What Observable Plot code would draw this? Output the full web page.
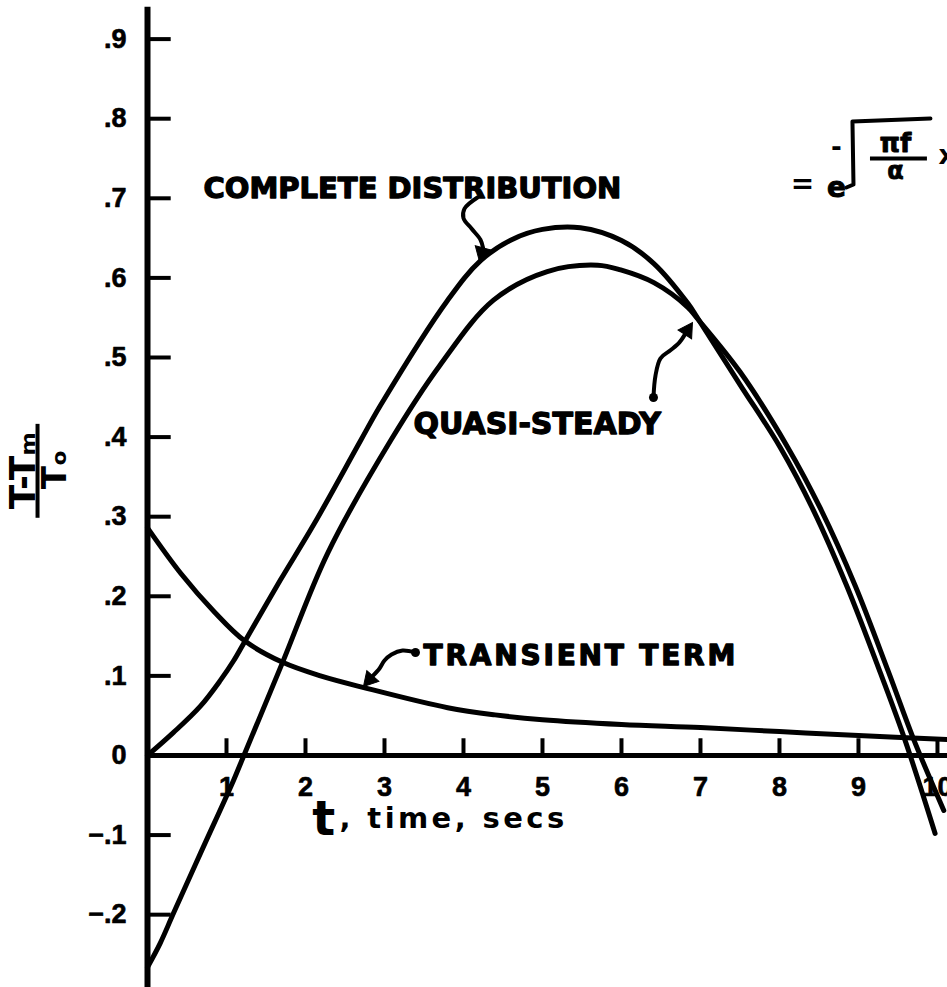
<!DOCTYPE html>
<html>
<head>
<meta charset="utf-8">
<script src="https://cdn.jsdelivr.net/npm/d3@7"></script>
<script src="https://cdn.jsdelivr.net/npm/@observablehq/plot@0.6"></script>
<style>
  body { margin: 0; background: #fff; }
  #chart svg { display: block; }
</style>
</head>
<body>
<div id="chart"></div>
<script>
// Dimensionless temperature (T - Tm)/To against time t (secs)

// Complete distribution = quasi-steady + transient
const completeT = [0, 0.33, 0.67, 0.92, 1.09, 1.23, 1.68, 2.11, 2.70, 2.95, 3.8, 4.22, 4.63, 5.0, 5.48, 6.0, 6.41, 6.84, 6.96, 7.5, 8.01, 8.43, 8.86, 9.28, 9.59, 9.97];
const completeV = [0, 0.029, 0.062, 0.094, 0.119, 0.143, 0.22, 0.291, 0.396, 0.44, 0.572, 0.622, 0.649, 0.661, 0.663, 0.647, 0.618, 0.568, 0.550, 0.466, 0.387, 0.308, 0.211, 0.103, 0.019, -0.098];

// Quasi-steady (periodic) solution
const quasiT = [0, 0.16, 0.33, 0.67, 1.09, 1.22, 1.71, 2.28, 3.08, 3.7, 4.38, 5.06, 5.70, 5.99, 6.41, 6.84, 6.96, 7.5, 8.10, 8.52, 8.96, 9.38, 9.70, 10.08];
const quasiV = [-0.266, -0.236, -0.198, -0.123, -0.031, 0, 0.117, 0.254, 0.396, 0.49, 0.572, 0.608, 0.616, 0.61, 0.594, 0.563, 0.549, 0.482, 0.388, 0.31, 0.213, 0.105, 0.02, -0.069];

// Decaying transient term
const transientT = [0, 0.42, 0.85, 1.23, 1.71, 2.19, 2.75, 3.8, 4.4, 5, 6, 7, 8, 9, 10.13];
const transientV = [0.286, 0.229, 0.180, 0.144, 0.117, 0.100, 0.085, 0.060, 0.051, 0.045, 0.039, 0.035, 0.030, 0.025, 0.020];

// Axis ticks
const xTicks = [1, 2, 3, 4, 5, 6, 7, 8, 9, 10];
const xTickLabels = ["1", "2", "3", "4", "5", "6", "7", "8", "9", "10"];
const yTicks = [-0.2, -0.1, 0, 0.1, 0.2, 0.3, 0.4, 0.5, 0.6, 0.7, 0.8, 0.9];
const yTickLabels = ["\u2212.2", "\u2212.1", "0", ".1", ".2", ".3", ".4", ".5", ".6", ".7", ".8", ".9"];

// Curve labels and their leader arrows (in t, value units)
const labelNames = ["COMPLETE DISTRIBUTION", "QUASI-STEADY", "TRANSIENT TERM"];
const labelT = [0.709, 3.367, 3.494];
const labelV = [0.7117, 0.4165, 0.1244];

const completeArrowT = [4.177, 4.013, 4.0, 4.101, 4.215, 4.248];
const completeArrowV = [0.701, 0.687, 0.675, 0.662, 0.648, 0.6376];
const quasiArrowT = [6.405, 6.430, 6.494, 6.620, 6.734, 6.804];
const quasiArrowV = [0.4497, 0.477, 0.499, 0.509, 0.519, 0.529];
const transientArrowT = [3.392, 3.228, 3.089, 3.0, 2.937, 2.852];
const transientArrowV = [0.1294, 0.1319, 0.1269, 0.1193, 0.1093, 0.0999];
const headT = [4.233, 6.834, 2.813];
const headV = [0.632, 0.534, 0.0955];
const headAngle = [195, 33, 222];
const tailT = [6.405, 3.392];
const tailV = [0.4497, 0.1294];

// Quasi-steady amplitude expression, top right
const radicalT = [8.848, 8.937, 8.924, 9.911];
const radicalV = [0.7136, 0.7173, 0.7965, 0.8003];

const xMax = 10.127, yMin = -0.2915, yMax = 0.9485;

const pts = (ts, vs) => ts.map((t, i) => ({t, v: vs[i]}));
const complete = pts(completeT, completeV);
const quasi = pts(quasiT, quasiV);
const transient = pts(transientT, transientV);

const hand = "DejaVu Sans";
const digits = "Liberation Sans";
const ink = {fill: "black", stroke: "black"};
const curveStyle = {x: "t", y: "v", curve: "catmull-rom", stroke: "black", strokeWidth: 5, strokeLinecap: "round", strokeLinejoin: "round"};
const leaderStyle = {x: "t", y: "v", curve: "catmull-rom", stroke: "black", strokeWidth: 4, strokeLinecap: "round"};
const labelStyle = (i, size) => ({
  x: () => labelT[i], y: () => labelV[i], text: () => labelNames[i],
  textAnchor: "start", fontFamily: hand, fontWeight: "bold", fontSize: size,
  ...ink, strokeWidth: 1.3
});

const chart = Plot.plot({
  width: 947,
  height: 987,
  marginLeft: 147,
  marginRight: 0,
  marginTop: 0,
  marginBottom: 0,
  x: {domain: [0, xMax], axis: null},
  y: {domain: [yMin, yMax], axis: null},
  style: {background: "white", color: "black"},
  marks: [
    // axes
    Plot.ruleX([0], {y1: yMin, y2: 0.94, strokeWidth: 6}),
    Plot.ruleY([0], {x1: 0, x2: xMax, strokeWidth: 5}),
    Plot.ruleX(xTicks, {x: d => d, y1: 0, y2: 0.021, strokeWidth: 4}),
    Plot.ruleY(yTicks.filter(d => d !== 0), {y: d => d, x1: 0, x2: 0.3, strokeWidth: 4}),
    Plot.text(xTicks, {x: d => d, y: 0, dy: 32, text: (d, i) => xTickLabels[i], fontFamily: digits, fontWeight: "bold", fontSize: 27, ...ink, strokeWidth: 0.6}),
    Plot.text(yTicks, {x: 0, y: d => d, dx: -21, text: (d, i) => yTickLabels[i], textAnchor: "end", fontFamily: digits, fontWeight: "bold", fontSize: 27, ...ink, strokeWidth: 0.6}),

    // axis titles
    Plot.text(["t"], {x: () => 2.23, y: () => -0.08, text: d => d, fontFamily: hand, fontWeight: "bold", fontSize: 48}),
    Plot.text([", time, secs"], {x: () => 2.43, y: () => -0.0797, text: d => d, textAnchor: "start", fontFamily: hand, fontWeight: "bold", fontSize: 29}),
    Plot.text(["T-T\u2098"], {x: () => -1.57, y: () => 0.358, text: d => d, rotate: -90, fontFamily: hand, fontWeight: "bold", fontSize: 36}),
    Plot.ruleX([-1.392], {x: d => d, y1: 0.298, y2: 0.416, strokeWidth: 4}),
    Plot.text(["T\u2092"], {x: () => -1.165, y: () => 0.3593, text: d => d, rotate: -90, fontFamily: hand, fontWeight: "bold", fontSize: 34}),

    // curves
    Plot.line(transient, curveStyle),
    Plot.line(quasi, curveStyle),
    Plot.line(complete, curveStyle),

    // labels with leader arrows
    Plot.text([0], labelStyle(0, 29)),
    Plot.text([0], labelStyle(1, 30)),
    Plot.text([0], labelStyle(2, 28)),
    Plot.line(pts(completeArrowT, completeArrowV), leaderStyle),
    Plot.line(pts(quasiArrowT, quasiArrowV), leaderStyle),
    Plot.line(pts(transientArrowT, transientArrowV), leaderStyle),
    Plot.dot(headT.map((t, i) => ({t, v: headV[i], a: headAngle[i]})), {x: "t", y: "v", rotate: "a", symbol: "triangle", r: 6, ...ink, strokeWidth: 1}),
    Plot.dot(pts(tailT, tailV), {x: "t", y: "v", r: 4.5, fill: "black"}),

    // = e^(-sqrt(pi f / alpha) x)
    Plot.text(["="], {x: () => 8.291, y: () => 0.7173, text: d => d, fontFamily: hand, fontWeight: "bold", fontSize: 28}),
    Plot.text(["e"], {x: () => 8.722, y: () => 0.7123, text: d => d, fontFamily: hand, fontWeight: "bold", fontSize: 28, ...ink, strokeWidth: 1}),
    Plot.text(["-"], {x: () => 8.722, y: () => 0.7638, text: d => d, fontFamily: hand, fontWeight: "bold", fontSize: 26}),
    Plot.line(pts(radicalT, radicalV), {x: "t", y: "v", stroke: "black", strokeWidth: 4, strokeLinejoin: "round"}),
    Plot.text(["\u03c0f"], {x: () => 9.468, y: () => 0.7688, text: d => d, fontFamily: hand, fontWeight: "bold", fontSize: 26, ...ink, strokeWidth: 0.8}),
    Plot.ruleY([0.75], {y: d => d, x1: 9.152, x2: 9.873, strokeWidth: 4}),
    Plot.text(["\u03b1"], {x: () => 9.468, y: () => 0.7337, text: d => d, fontFamily: hand, fontWeight: "bold", fontSize: 24, ...ink, strokeWidth: 0.8}),
    Plot.text(["x"], {x: () => 10.013, y: () => 0.7538, text: d => d, textAnchor: "start", fontFamily: hand, fontWeight: "bold", fontSize: 26})
  ]
});

// hand-lettered labels are widely spaced
const spacing = new Map([["TRANSIENT TERM", 2.8], [", time, secs", 3.4]]);
d3.select(chart).selectAll("text").each(function () {
  const s = spacing.get(this.textContent);
  if (s) this.setAttribute("letter-spacing", s);
});

document.getElementById("chart").append(chart);
</script>
</body>
</html>
